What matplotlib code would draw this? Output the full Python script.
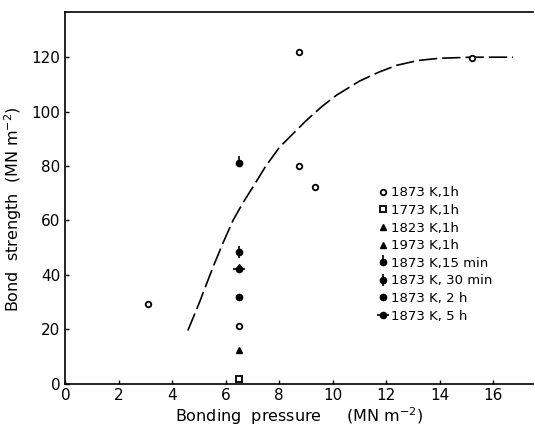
import matplotlib
matplotlib.use("Agg")
import matplotlib.pyplot as plt
from matplotlib.legend_handler import HandlerTuple
from matplotlib.path import Path

# ---- data ----
x_1873_1h = [3.1, 8.75, 8.75, 9.33, 15.2, 6.5]
y_1873_1h = [29.4, 122, 80, 72.4, 119.7, 21.3]
x_1773_1h = [6.5]
y_1773_1h = [1.5]
x_1823_1h = [6.5]
y_1823_1h = [12.5]
x_1973_1h = [6.5]
y_1973_1h = [42.8]
x_1873_15min = [6.5]
y_1873_15min = [81]
x_1873_30min = [6.5]
y_1873_30min = [48.5]
x_1873_2h = [6.5]
y_1873_2h = [32]
x_1873_5h = [6.5]
y_1873_5h = [42.3]

curve_x = [4.58, 5.0, 5.52, 5.9, 6.27, 6.65, 7.01, 7.5, 8.01, 9.01, 9.6, 10.14, 11.0, 11.73, 12.39, 13.2, 14.0, 15.2, 16.75]
curve_y = [19.5, 29.5, 42.8, 51.8, 60, 66.6, 72.2, 80, 86.9, 96.7, 101.9, 106.0, 111.2, 114.5, 117, 118.8, 119.6, 120, 120]

xticks = [0, 2, 4, 6, 8, 10, 12, 14, 16]
yticks = [0, 20, 40, 60, 80, 100, 120]

plt.rcParams['font.family'] = ['DejaVu Sans']
fig = plt.figure(figsize=(5.35, 4.30), dpi=100)
ax = fig.add_axes([0.1224, 0.108, 0.874, 0.864])

ax.plot(curve_x, curve_y, color='black', lw=1.2, linestyle=(0, (11, 3)), zorder=1)

k = dict(color='black', linestyle='none')
h1, = ax.plot(x_1873_1h, y_1873_1h, marker='o', ms=4, mfc='white', mec='black', mew=1.3, **k)
h2, = ax.plot(x_1773_1h, y_1773_1h, marker='s', ms=4, mfc='white', mec='black', mew=1.3, **k)
h3, = ax.plot(x_1823_1h, y_1823_1h, marker='^', ms=4.5, **k)
h4, = ax.plot(x_1973_1h, y_1973_1h, marker='^', ms=4, **k)

stick_up = Path([(0, 0), (0, 1.0)], [Path.MOVETO, Path.LINETO])
h5a, = ax.plot(x_1873_15min, y_1873_15min, marker='o', ms=4.5, **k)
h5b, = ax.plot(x_1873_15min, y_1873_15min, marker=stick_up, ms=10, mew=1.2, **k)
h6a, = ax.plot(x_1873_30min, y_1873_30min, marker='o', ms=4.5, **k)
h6b, = ax.plot(x_1873_30min, y_1873_30min, marker='|', ms=9, mew=1.2, **k)
h7, = ax.plot(x_1873_2h, y_1873_2h, marker='o', ms=4.5, **k)
h8a, = ax.plot(x_1873_5h, y_1873_5h, marker='o', ms=4.5, **k)
h8b, = ax.plot(x_1873_5h, y_1873_5h, marker='_', ms=9, mew=1.2, **k)

labels = ['1873 K,1h', '1773 K,1h', '1823 K,1h', '1973 K,1h',
          '1873 K,15 min', '1873 K, 30 min', '1873 K, 2 h', '1873 K, 5 h']
handles = [h1, h2, h3, h4, (h5a, h5b), (h6a, h6b), h7, (h8a, h8b)]
ax.legend(handles, labels, handler_map={tuple: HandlerTuple(ndivide=1, pad=0)},
          loc='upper left', bbox_to_anchor=(0.66, 0.545), frameon=False,
          handlelength=0.6, handletextpad=0.3, labelspacing=0.35, fontsize=9.5,
          borderaxespad=0)

ax.set_xlim(0, 17.5)
ax.set_ylim(0, 136.6)
ax.set_xticks(xticks)
ax.set_yticks(yticks)
ax.tick_params(direction='in', length=3, width=1, labelsize=11, colors='black')
ax.spines['right'].set_visible(False)
for s in ['left', 'bottom', 'top']:
    ax.spines[s].set_linewidth(1.2)

ax.set_xlabel('Bonding  pressure     (MN m$^{-2}$)', fontsize=11.5, labelpad=1)
ax.set_ylabel('Bond  strength  (MN m$^{-2}$)', fontsize=11.5)
ax.yaxis.set_label_coords(-0.088, 0.47)

fig.savefig('out.png', dpi=100)
